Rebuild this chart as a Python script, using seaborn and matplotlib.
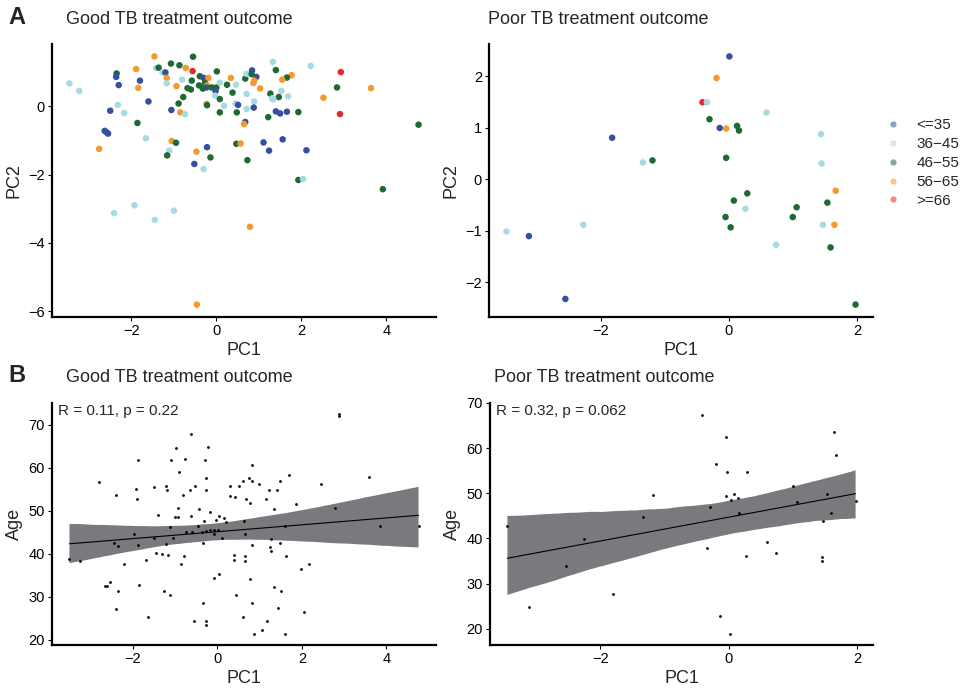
import numpy as np
import pandas as pd
import matplotlib
matplotlib.use("Agg")
import matplotlib.pyplot as plt
import seaborn as sns
from matplotlib.lines import Line2D
from matplotlib.collections import PolyCollection

sns.set_theme(style="ticks")
plt.rcParams["font.family"] = ["Liberation Sans", "DejaVu Sans"]
plt.rcParams["axes.unicode_minus"] = True

# ---- age groups -------------------------------------------------------
age_groups = ["<=35", "36\u221245", "46\u221255", "56\u221265", ">=66"]
group_colors = ["#34509f", "#a7dbe3", "#1d6a33", "#f6982a", "#e8262d"]

# ---- PCA scores, good outcome (group index into age_groups) -----------
good_pc1 = [-1.46, -0.55, -1.89, -2.35, -2.36, -2.30, -1.80, -1.84, -3.46, -3.23,
            -1.42, -1.36, -1.27, -1.20, -1.07, -0.87, -0.72, -0.56, -1.17, -1.17,
            -0.94, -0.81, -0.58, -0.39, -0.30, -0.19, 0.01, -0.41, -0.27, -0.22,
            -0.23, -0.68, -0.60, -0.32, -0.11, 0.00, -0.02, 0.08, 0.25, 0.34,
            0.46, 0.68, 0.71, 0.84, 0.83, 0.38, 0.71, -0.78, -0.03, 0.08,
            -0.89, -0.23, -0.22, 0.18, 0.45, 0.51, 0.71, -1.60, -2.32, -2.50,
            -2.17, -1.06, -0.85, -0.74, 0.08, 0.48, -1.86, -2.63, -2.59, -2.55,
            0.68, 0.65, -1.66, -2.76, -1.05, -0.95, -1.11, -1.16, -0.47, -0.22,
            -0.14, -0.52, -0.30, 0.47, 0.57, 0.73, 1.33, 2.22, 2.93, 1.40,
            0.94, 1.77, 1.66, 1.55, 0.89, 0.87, 1.03, 2.84, 3.64, 1.27,
            1.53, 1.47, 1.31, 1.34, 1.69, 2.52, 0.89, 0.88, 1.40, 1.50,
            1.66, 1.93, 1.22, 2.91, 4.76, 1.11, 1.56, 1.24, 2.12, 1.93,
            2.04, 3.92, -2.41, -1.93, -1.45, -1.00, 0.79, -0.46]
good_pc2 = [1.46, 1.45, 1.09, 0.96, 0.86, 0.62, 0.75, 0.54, 0.67, 0.45,
            1.12, 1.13, 0.99, 0.99, 1.25, 1.20, 1.12, 1.03, 0.83, 0.67,
            0.59, 0.78, 0.75, 0.88, 0.83, 0.83, 1.02, 0.61, 0.68, 0.61,
            0.55, 0.53, 0.49, 0.52, 0.55, 0.55, 0.45, 0.69, 0.63, 0.83,
            0.63, 0.81, 0.95, 1.05, 0.94, 0.40, 0.36, 0.27, 0.31, 0.21,
            0.08, 0.07, 0.03, 0.01, 0.08, 0.04, -0.08, 0.14, 0.04, -0.13,
            -0.20, -0.11, -0.18, -0.23, -0.18, -0.18, -0.49, -0.72, -0.76, -0.80,
            -0.46, -0.52, -0.94, -1.25, -1.02, -1.07, -1.30, -1.44, -1.33, -1.20,
            -1.50, -1.69, -1.84, -1.10, -1.09, -1.58, 1.30, 1.18, 1.00, 1.06,
            0.86, 0.91, 0.84, 0.78, 0.75, 0.68, 0.52, 0.55, 0.53, 0.37,
            0.45, 0.27, 0.23, 0.20, 0.29, 0.25, 0.14, -0.04, -0.15, -0.21,
            -0.16, -0.17, -0.32, -0.23, -0.54, -1.06, -0.97, -1.30, -1.29, -2.16,
            -2.13, -2.43, -3.13, -2.90, -3.33, -3.06, -3.53, -5.81]
good_group = [3, 2, 3, 2, 0, 0, 0, 3, 1, 1,
              1, 2, 1, 0, 2, 2, 3, 4, 3, 1,
              3, 1, 2, 2, 0, 3, 2, 2, 2, 3,
              0, 2, 2, 2, 2, 2, 0, 1, 2, 3,
              1, 2, 1, 0, 2, 2, 1, 2, 1, 2,
              2, 3, 2, 1, 1, 0, 1, 0, 1, 0,
              1, 0, 3, 1, 2, 2, 2, 0, 0, 0,
              0, 3, 1, 3, 3, 2, 1, 2, 3, 0,
              2, 0, 1, 2, 3, 2, 1, 1, 4, 2,
              0, 3, 2, 3, 3, 3, 3, 2, 3, 2,
              1, 2, 1, 1, 1, 3, 1, 0, 0, 0,
              0, 2, 2, 4, 2, 0, 0, 0, 0, 2,
              1, 2, 1, 1, 1, 1, 3, 3]

# ---- PCA scores, poor outcome -----------------------------------------
poor_pc1 = [0.01, -0.19, -0.41, -0.34, 0.59, -0.30, -0.14, -0.04, 0.13, 0.16,
            1.44, -0.04, -1.34, -1.19, 1.45, 1.67, 0.29, 0.08, 1.54, 1.06,
            0.26, -0.05, 1.00, 0.03, 1.47, 1.65, 0.74, 1.59, 1.98, -1.82,
            -3.47, -3.12, -2.27, -2.55]
poor_pc2 = [2.39, 1.97, 1.50, 1.50, 1.30, 1.17, 1.00, 0.99, 1.04, 0.95,
            0.88, 0.42, 0.33, 0.37, 0.31, -0.22, -0.27, -0.41, -0.45, -0.54,
            -0.57, -0.73, -0.73, -0.93, -0.88, -0.88, -1.27, -1.32, -2.43, 0.81,
            -1.01, -1.10, -0.88, -2.32]
poor_group = [0, 3, 4, 1, 1, 2, 0, 3, 2, 2,
              1, 2, 1, 2, 1, 3, 2, 2, 2, 2,
              1, 2, 2, 2, 1, 3, 1, 2, 2, 0,
              1, 0, 1, 0]

# ---- PC1 against age ----------------------------------------------------
good_age_pc1 = [-0.62, -0.98, -0.23, -1.87, -1.09, -0.77, -0.29, 0.81, -0.90, 0.74,
                0.83, 0.98, 0.60, 0.50, -2.80, -1.93, -1.51, -1.22, -1.20, -0.52,
                -0.65, -0.28, -0.28, 0.31, -2.39, -1.91, -0.82, 0.31, 0.42, 0.67,
                0.77, -0.93, -0.43, -1.41, -1.00, -0.94, -0.63, -0.18, 0.03, 0.16,
                -0.04, -0.31, 0.21, 0.62, -1.12, -0.45, -0.74, -0.59, -0.37, -0.28,
                -0.18, -0.08, 0.02, -1.98, -1.49, -1.05, -0.07, 0.12, 0.65, -2.44,
                -2.36, -1.88, -1.21, -0.35, 0.83, -3.50, -3.26, -2.22, -1.70, -1.46,
                -1.32, -1.16, -0.79, -0.85, 0.40, 0.40, 0.66, 0.66, -2.67, -2.60,
                -2.53, -2.34, -1.85, -1.26, -1.11, -0.07, 0.03, 0.45, 0.78, -2.40,
                -1.65, -0.35, -0.56, -0.28, -0.28, 0.61, 0.82, 0.87, 2.87, 2.87,
                1.70, 3.58, 1.49, 1.21, 1.40, 1.15, 1.34, 1.87, 2.45, 2.78,
                1.60, 3.85, 4.76, 1.28, 1.47, 1.25, 1.27, 1.63, 1.98, 2.16,
                1.34, 1.51, 1.43, 2.06, 1.17, 1.06, 1.60]
good_age = [67.9, 64.5, 64.8, 61.7, 61.7, 62.1, 61.8, 60.7, 59.0, 57.7,
            56.8, 56.1, 56.8, 55.7, 56.7, 55.0, 55.4, 55.7, 54.7, 55.7,
            54.7, 57.5, 54.7, 55.7, 53.6, 52.7, 53.6, 53.5, 53.2, 52.7,
            51.7, 50.7, 50.5, 49.1, 48.6, 48.6, 48.8, 49.6, 48.8, 48.2,
            47.8, 47.6, 47.4, 47.5, 46.3, 46.4, 45.1, 45.1, 45.1, 45.3,
            45.5, 45.4, 45.4, 44.5, 43.6, 43.6, 44.5, 43.6, 44.5, 42.5,
            41.8, 42.0, 42.3, 42.4, 42.0, 38.8, 38.2, 37.6, 38.5, 40.1,
            40.0, 39.6, 39.5, 37.6, 39.8, 38.6, 39.5, 38.4, 32.4, 32.5,
            33.5, 31.4, 32.6, 31.4, 30.4, 34.4, 35.2, 30.4, 34.0, 27.2,
            25.3, 28.4, 24.3, 24.3, 23.3, 25.3, 28.4, 21.3, 72.5, 72.0,
            58.2, 57.8, 56.8, 54.7, 54.7, 52.7, 50.3, 51.6, 56.2, 50.7,
            46.5, 46.5, 46.5, 43.4, 42.4, 41.6, 40.6, 39.4, 36.4, 37.5,
            32.3, 31.4, 27.3, 26.4, 24.3, 22.2, 21.3]

poor_age_pc1 = [-3.45, -3.11, -2.54, -2.26, -1.81, -1.33, -1.18, -0.41, -0.04, -0.19,
                -0.03, 0.29, -0.04, 0.04, 0.09, 0.14, -0.29, 0.16, -0.34, 0.27,
                0.60, 0.74, 1.01, 1.06, 1.54, 1.59, 1.47, 1.65, 1.67, 1.98,
                1.45, 1.45, -0.14, 0.02]
poor_age = [42.8, 24.8, 33.9, 39.8, 27.7, 44.8, 49.7, 67.3, 62.4, 56.5,
            54.8, 54.8, 49.3, 48.5, 49.8, 48.9, 47.0, 45.7, 37.8, 36.0,
            39.3, 36.8, 51.5, 48.0, 49.8, 45.7, 43.9, 63.5, 58.4, 48.2,
            35.8, 35.0, 22.8, 18.8]

good_stats = "R = 0.11, p = 0.22"
poor_stats = "R = 0.32, p = 0.062"
titles = ["Good TB treatment outcome", "Poor TB treatment outcome"]

# ---- figure ----------------------------------------------------------------
W, H = 962, 688
fig = plt.figure(figsize=(W / 100, H / 100), dpi=100)


def add_ax(x0, y0, x1, y1):
    return fig.add_axes([x0 / W, 1 - y1 / H, (x1 - x0) / W, (y1 - y0) / H])


def style(ax):
    for s in ("top", "right"):
        ax.spines[s].set_visible(False)
    for s in ("left", "bottom"):
        ax.spines[s].set_linewidth(1.6)
        ax.spines[s].set_color("black")
    ax.tick_params(length=3, width=0.8, labelsize=10.5, colors="black", pad=2)
    ax.set_facecolor("white")


def pca_panel(ax, pc1, pc2, grp, xticks, yticks):
    df = pd.DataFrame({"PC1": pc1, "PC2": pc2,
                       "Age group": [age_groups[g] for g in grp]})
    sns.scatterplot(data=df, x="PC1", y="PC2", hue="Age group",
                    hue_order=age_groups, palette=group_colors, s=22,
                    linewidth=0, legend=False, ax=ax)
    style(ax)
    ax.set_xticks(xticks)
    ax.set_yticks(yticks)
    ax.set_xlabel("PC1", fontsize=13, labelpad=3)
    ax.set_ylabel("PC2", fontsize=13, labelpad=4)


def age_panel(ax, pc1, age, stats):
    df = pd.DataFrame({"PC1": pc1, "Age": age})
    sns.regplot(data=df, x="PC1", y="Age", scatter=False, ci=95, n_boot=2000,
                seed=7, color="black", line_kws={"linewidth": 0.8}, ax=ax)
    for coll in ax.collections:
        if isinstance(coll, PolyCollection):
            coll.set_facecolor("#7b797d")
            coll.set_alpha(1)
            coll.set_edgecolor("none")
            coll.set_zorder(1)
    ax.lines[0].set_zorder(3)
    sns.scatterplot(data=df, x="PC1", y="Age", color="black", s=4,
                    linewidth=0, ax=ax, zorder=4)
    style(ax)
    ax.set_yticks([20, 30, 40, 50, 60, 70])
    ax.set_xlabel("PC1", fontsize=13, labelpad=3)
    ax.set_ylabel("Age", fontsize=13, labelpad=4)
    ax.text(0.015, 0.965, stats, transform=ax.transAxes, fontsize=11,
            ha="left", va="center")


ax1 = add_ax(52, 44, 436, 317)
pca_panel(ax1, good_pc1, good_pc2, good_group, [-2, 0, 2, 4], [-6, -4, -2, 0])
ax2 = add_ax(489, 44, 873, 317)
pca_panel(ax2, poor_pc1, poor_pc2, poor_group, [-2, 0, 2], [-2, -1, 0, 1, 2])

ax3 = add_ax(52, 403, 436, 645)
age_panel(ax3, good_age_pc1, good_age, good_stats)
ax3.set_xticks([-2, 0, 2, 4])
ax4 = add_ax(490, 403, 873, 645)
age_panel(ax4, poor_age_pc1, poor_age, poor_stats)
ax4.set_xticks([-2, 0, 2])

# panel titles and tags
fig.text(66 / W, 1 - 19 / H, titles[0], fontsize=13, ha="left", va="center")
fig.text(488 / W, 1 - 19 / H, titles[1], fontsize=13, ha="left", va="center")
fig.text(66 / W, 1 - 377 / H, titles[0], fontsize=13, ha="left", va="center")
fig.text(494 / W, 1 - 377 / H, titles[1], fontsize=13, ha="left", va="center")
fig.text(8 / W, 1 - 18 / H, "A", fontsize=17, fontweight="bold", ha="left", va="center")
fig.text(8 / W, 1 - 375 / H, "B", fontsize=17, fontweight="bold", ha="left", va="center")

# age group legend
handles = [Line2D([], [], marker="o", linestyle="", markersize=4.5,
                  markerfacecolor=c, markeredgewidth=0, alpha=0.55)
           for c in group_colors]
fig.legend(handles, age_groups, loc="center left",
           bbox_to_anchor=(878 / W, 1 - 163 / H), frameon=False, fontsize=11,
           handlelength=1.2, handletextpad=0.9, labelspacing=0.32,
           borderaxespad=0)

fig.savefig("out.png", dpi=100, facecolor="white")
